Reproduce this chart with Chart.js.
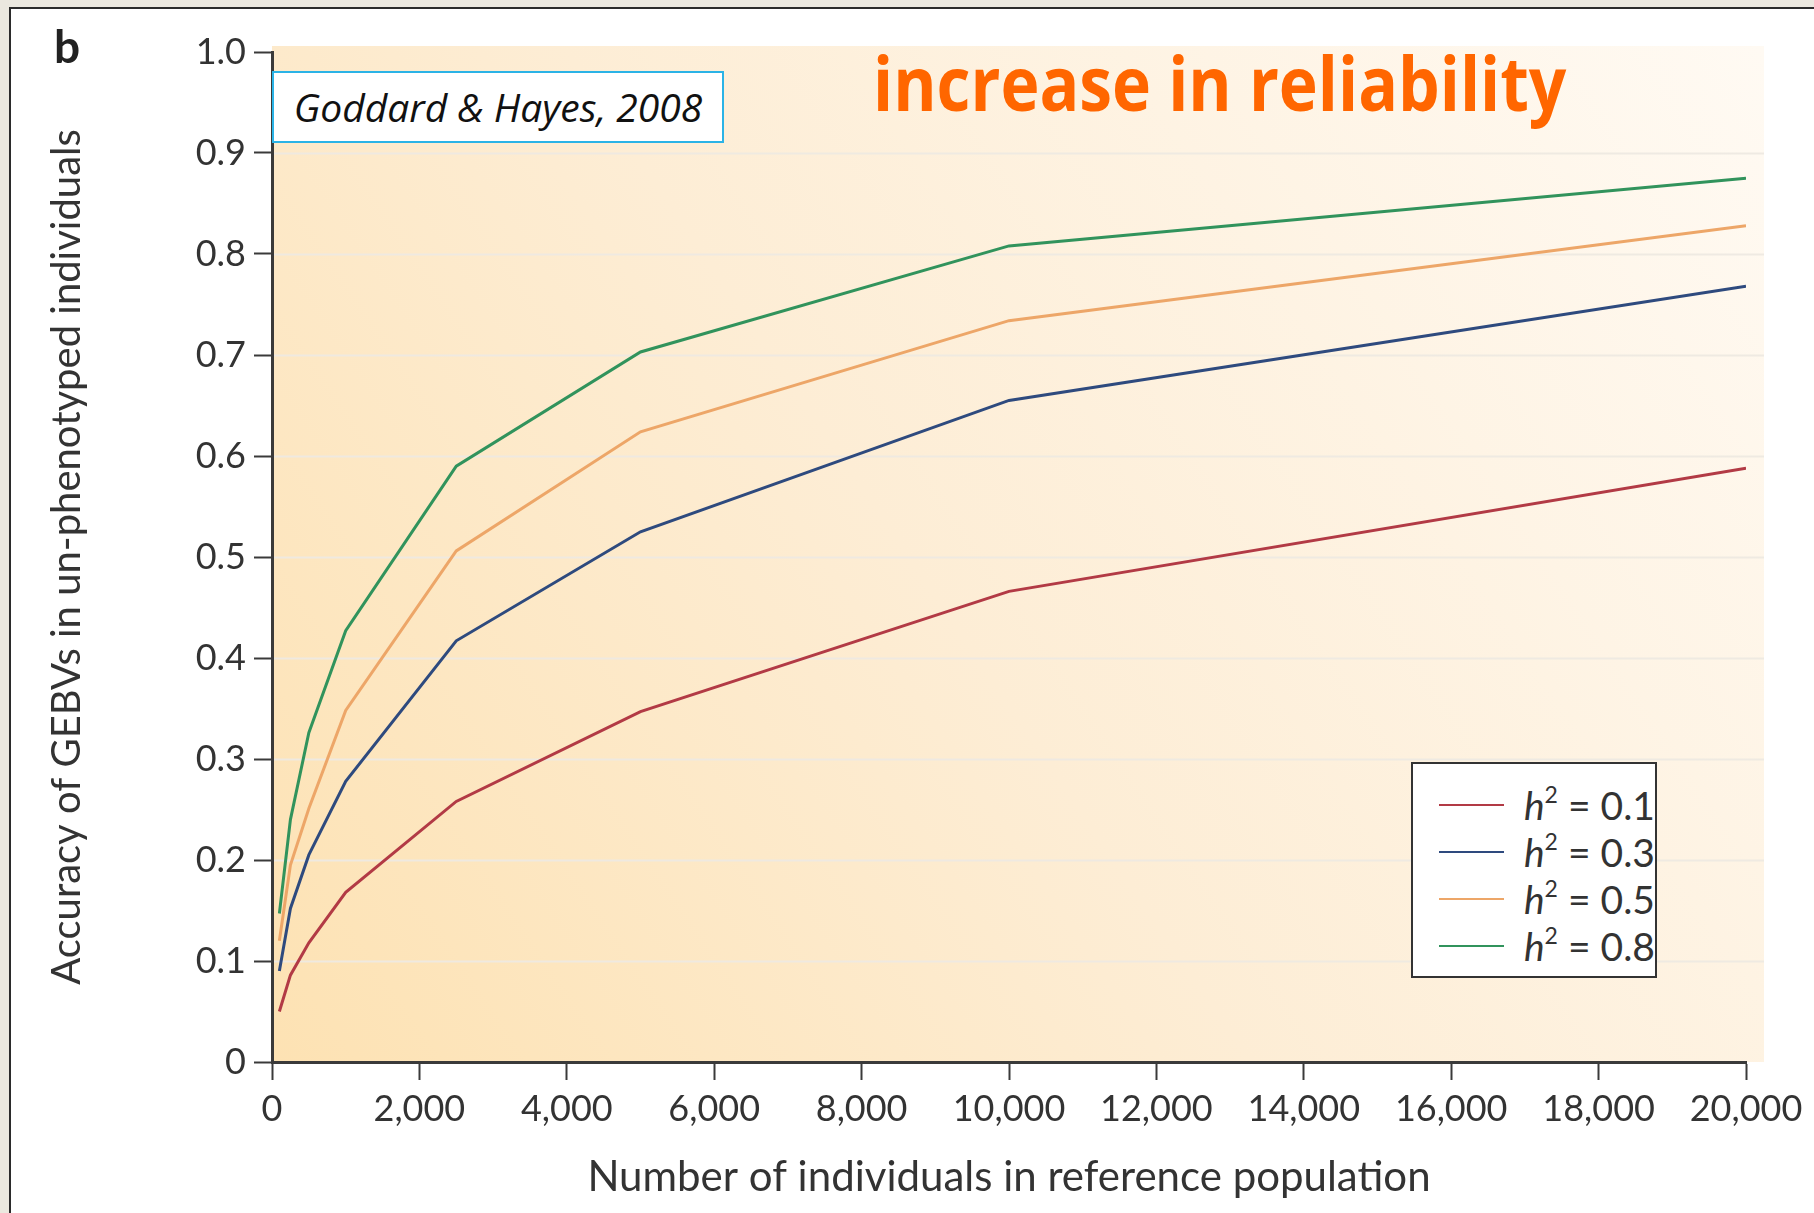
<!DOCTYPE html>
<html lang="en">
<head>
    <meta charset="UTF-8">
    <title>Accuracy of GEBVs vs reference population size</title>
    <script src="https://cdn.jsdelivr.net/npm/chart.js"></script>
    <style>
        body { margin: 0; width: 1814px; height: 1213px; overflow: hidden; background: #ebe8df;
               font-family: Lato, "Open Sans", sans-serif; position: relative; }
        #frame { position: absolute; left: 9px; top: 7px; width: 1820px; height: 1220px; background: #fff;
                 border-left: 2px solid #2b2b2b; border-top: 2px solid #2b2b2b; }
        #chart { position: absolute; left: 0; top: 0; }
        #panel { position: absolute; left: 54px; top: 18px; font: bold 46px Lato, sans-serif; color: #222; }
        #source { position: absolute; left: 272px; top: 71px; width: 452px; height: 72px; box-sizing: border-box;
                  background: #fff; border: 2px solid #2bb3e6; font: italic 39px "Open Sans", sans-serif;
                  color: #111; line-height: 68px; text-align: center; }
        #note { position: absolute; left: 873px; top: 31px; font: bold 75px "Open Sans", sans-serif; color: #ff6600;
                white-space: nowrap; transform: scaleX(0.88); transform-origin: left top; }
        #legend { position: absolute; left: 1411px; top: 762px; width: 246px; height: 216px; box-sizing: border-box;
                  background: #fff; border: 2px solid #333; padding-top: 17px; }
        .row { height: 47px; display: flex; align-items: center; color: #333; font-size: 39px; white-space: nowrap; }
        .row span.swatch { display: inline-block; width: 66px; height: 2px; margin: 0 20px 0 26px; }
        .row sup { font-size: 23px; position: relative; top: -3px; }
    </style>
</head>
<body>

<div id="frame"></div>
<canvas id="chart" width="1814" height="1213"></canvas>
<div id="panel">b</div>
<div id="source">Goddard &amp; Hayes, 2008</div>
<div id="note">increase in reliability</div>
<div id="legend"></div>

<script>
    // reference population size (x) and accuracy of GEBVs for each heritability
    const popSizes = [100, 250, 500, 1000, 2500, 5000, 10000, 20000];
    const accH01 = [0.05, 0.086, 0.118, 0.168, 0.258, 0.347, 0.466, 0.588];
    const accH03 = [0.09, 0.152, 0.205, 0.278, 0.417, 0.525, 0.655, 0.768];
    const accH05 = [0.12, 0.195, 0.251, 0.348, 0.506, 0.624, 0.734, 0.828];
    const accH08 = [0.147, 0.24, 0.326, 0.427, 0.59, 0.703, 0.808, 0.875];

    const heritabilities = ['0.1', '0.3', '0.5', '0.8'];
    const seriesColors = ['#b23a45', '#2e4a7e', '#eda668', '#31935c'];
    const yTicks = [0, 0.1, 0.2, 0.3, 0.4, 0.5, 0.6, 0.7, 0.8, 0.9, 1.0];

    const seriesData = [accH01, accH03, accH05, accH08];

    function toPoints(values) {
        return values.map((v, i) => ({ x: popSizes[i], y: v }));
    }

    // warm background and faint gridlines behind the curves
    const backdrop = {
        id: 'backdrop',
        beforeDraw(chart) {
            const { ctx, chartArea: a, scales } = chart;
            const right = a.right + 18;
            const g = ctx.createLinearGradient(a.left, a.bottom, right, a.top);
            g.addColorStop(0, '#fde2b3');
            g.addColorStop(0.45, '#fdedd5');
            g.addColorStop(1, '#fffaf3');
            ctx.save();
            ctx.fillStyle = g;
            ctx.fillRect(a.left, a.top - 6, right - a.left, a.bottom - a.top + 6);
            ctx.strokeStyle = 'rgba(238, 233, 226, 0.95)';
            ctx.lineWidth = 2;
            yTicks.slice(1, -1).forEach(t => {
                const y = Math.round(scales.y.getPixelForValue(t)) + 0.5;
                ctx.beginPath();
                ctx.moveTo(a.left, y);
                ctx.lineTo(right, y);
                ctx.stroke();
            });
            ctx.restore();
        }
    };

    const ctx = document.getElementById('chart').getContext('2d');
    new Chart(ctx, {
        type: 'line',
        data: {
            datasets: seriesData.map((vals, i) => ({
                label: 'h2 = ' + heritabilities[i],
                data: toPoints(vals),
                borderColor: seriesColors[i],
                borderWidth: 3,
                pointRadius: 0,
                tension: 0,
                fill: false
            }))
        },
        options: {
            responsive: false,
            animation: false,
            devicePixelRatio: 1,
            layout: { padding: { left: 0, top: 52, right: 68, bottom: 0 } },
            plugins: { legend: { display: false }, tooltip: { enabled: false } },
            scales: {
                x: {
                    type: 'linear',
                    min: 0,
                    max: 20000,
                    afterFit: s => { s.height = 151; },
                    border: { display: true, color: '#3a3a3a', width: 3 },
                    grid: { drawOnChartArea: false, drawTicks: true, tickLength: 18, tickColor: '#3a3a3a', tickWidth: 2 },
                    ticks: {
                        stepSize: 2000,
                        color: '#333',
                        padding: 8,
                        maxRotation: 0,
                        font: { family: 'Lato', size: 36 },
                        callback: v => v.toLocaleString('en-US')
                    },
                    title: {
                        display: true,
                        text: 'Number of individuals in reference population',
                        color: '#333',
                        font: { family: 'Lato', size: 42 },
                        padding: { top: 0, bottom: 10 }
                    }
                },
                y: {
                    min: 0,
                    max: 1,
                    afterFit: s => { s.width = 272; },
                    afterBuildTicks: s => { s.ticks = yTicks.map(v => ({ value: v })); },
                    border: { display: true, color: '#3a3a3a', width: 3 },
                    grid: { drawOnChartArea: false, drawTicks: true, tickLength: 18, tickColor: '#3a3a3a', tickWidth: 2 },
                    ticks: {
                        color: '#333',
                        padding: 8,
                        font: { family: 'Lato', size: 36 },
                        callback: v => v === 0 ? '0' : v.toFixed(1)
                    },
                    title: {
                        display: true,
                        text: 'Accuracy of GEBVs in un-phenotyped individuals',
                        color: '#333',
                        font: { family: 'Lato', size: 40 },
                        padding: { top: 43, bottom: 0 }
                    }
                }
            }
        },
        plugins: [backdrop]
    });

    // legend with italic h and superscript 2
    const legendEl = document.getElementById('legend');
    heritabilities.forEach((h, i) => {
        const row = document.createElement('div');
        row.className = 'row';
        row.innerHTML = '<span class="swatch" style="background:' + seriesColors[i] + '"></span>' +
            '<span><i>h</i><sup>2</sup> = ' + h + '</span>';
        legendEl.appendChild(row);
    });
</script>

</body>
</html>
